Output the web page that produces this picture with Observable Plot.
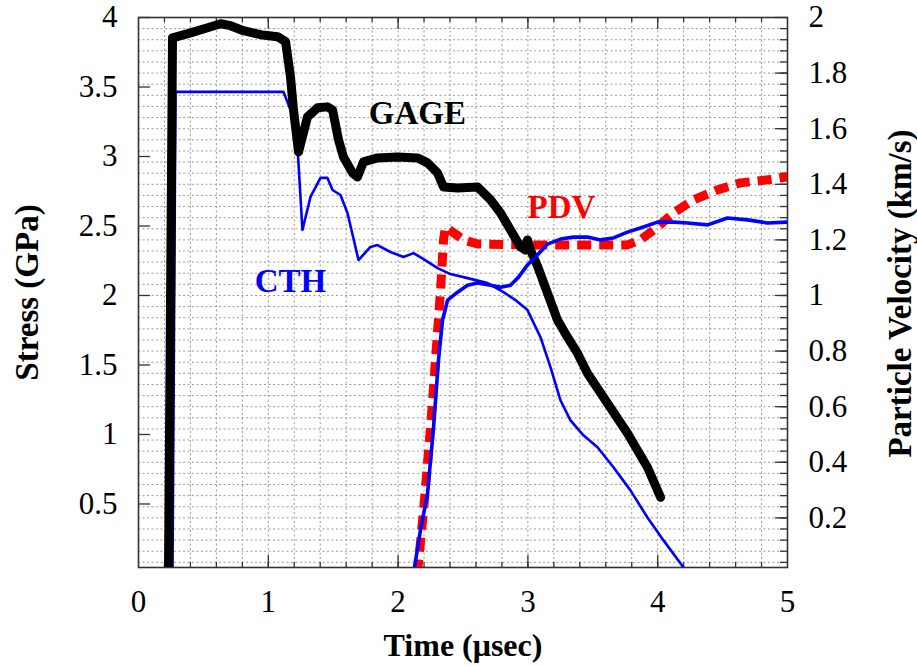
<!DOCTYPE html>
<html>
<head>
<meta charset="utf-8">
<script src="https://cdn.jsdelivr.net/npm/d3@7"></script>
<script src="https://cdn.jsdelivr.net/npm/@observablehq/plot@0.6"></script>
<style>
  html, body { margin: 0; padding: 0; background: #fff; }
  svg text { font-family: "Liberation Serif", "Times New Roman", Times, serif !important; }
</style>
</head>
<body>
<div id="chart"></div>
<script>
// ---- Data (time in µs, stress in GPa, particle velocity in km/s) ----
const gageT = [0.231, 0.262, 0.401, 0.532, 0.632, 0.709, 0.809, 0.940, 1.071, 1.133, 1.171, 1.194, 1.233, 1.302, 1.379, 1.456, 1.495, 1.541, 1.579, 1.649, 1.687, 1.733, 1.841, 1.995, 2.149, 2.227, 2.304, 2.350, 2.458, 2.612, 2.712, 2.789, 2.866, 2.943, 2.982, 2.997, 3.020, 3.074, 3.151, 3.228, 3.305, 3.382, 3.459, 3.613, 3.767, 3.921, 4.022];
const gageS = [0.0, 3.854, 3.890, 3.926, 3.955, 3.941, 3.905, 3.876, 3.862, 3.826, 3.573, 3.336, 3.033, 3.285, 3.350, 3.357, 3.336, 3.120, 2.997, 2.882, 2.853, 2.961, 2.990, 2.997, 2.990, 2.954, 2.882, 2.781, 2.774, 2.781, 2.689, 2.594, 2.471, 2.349, 2.327, 2.400, 2.327, 2.212, 2.017, 1.823, 1.700, 1.585, 1.441, 1.225, 1.009, 0.764, 0.548];

const cthT = [0.262, 0.285, 1.117, 1.171, 1.210, 1.225, 1.263, 1.325, 1.402, 1.456, 1.495, 1.556, 1.610, 1.695, 1.787, 1.841, 1.941, 2.042, 2.119, 2.196, 2.304, 2.404, 2.535, 2.689, 2.812, 2.904, 2.997, 3.097, 3.174, 3.251, 3.328, 3.428, 3.536, 3.659, 3.790, 3.921, 4.045, 4.199, 4.230];
const cthS = [0.0, 3.465, 3.465, 3.336, 3.321, 3.069, 2.471, 2.709, 2.846, 2.846, 2.759, 2.723, 2.594, 2.255, 2.349, 2.363, 2.313, 2.277, 2.305, 2.262, 2.197, 2.154, 2.125, 2.089, 2.024, 1.967, 1.895, 1.700, 1.484, 1.246, 1.102, 0.994, 0.908, 0.764, 0.598, 0.403, 0.238, 0.043, 0.0];

const pdvT = [2.149, 2.196, 2.250, 2.288, 2.327, 2.350, 2.365, 2.504, 2.612, 3.020, 3.559, 3.767, 3.867, 3.998, 4.122, 4.276, 4.461, 4.638, 4.846, 5.0];
const pdvV = [0.0, 0.227, 0.526, 0.767, 1.019, 1.200, 1.246, 1.200, 1.185, 1.182, 1.182, 1.182, 1.200, 1.246, 1.297, 1.344, 1.380, 1.405, 1.416, 1.427];

const cthVT = [2.119, 2.172, 2.227, 2.273, 2.311, 2.342, 2.381, 2.458, 2.535, 2.612, 2.712, 2.789, 2.866, 2.928, 2.997, 3.074, 3.151, 3.251, 3.351, 3.459, 3.559, 3.659, 3.767, 3.867, 3.998, 4.122, 4.230, 4.384, 4.538, 4.692, 4.846, 5.0];
const cthVV = [0.0, 0.155, 0.288, 0.526, 0.767, 0.911, 0.983, 1.012, 1.037, 1.045, 1.037, 1.030, 1.037, 1.066, 1.110, 1.146, 1.185, 1.203, 1.210, 1.210, 1.200, 1.207, 1.228, 1.243, 1.264, 1.264, 1.261, 1.254, 1.279, 1.272, 1.261, 1.264];

const xTicks = [0, 1, 2, 3, 4, 5];
const stressTicks = [0.5, 1, 1.5, 2, 2.5, 3, 3.5, 4];
const velTicks = [0.2, 0.4, 0.6, 0.8, 1, 1.2, 1.4, 1.6, 1.8, 2];

// stress units per velocity unit (right axis 0–2 km/s maps onto left 0–4 GPa)
const VEL_TO_STRESS = 2;

const labels = [
  {t: 2.149, s: 3.307, text: "GAGE", color: "#000000"},
  {t: 3.259, s: 2.630, text: "PDV", color: "#ff0000"},
  {t: 1.171, s: 2.104, text: "CTH", color: "#0000ff"}
];

// ---- Build tables ----
const gage = gageT.map((t, i) => ({t, s: gageS[i]}));
const cth = cthT.map((t, i) => ({t, s: cthS[i]}));
const pdv = pdvT.map((t, i) => ({t, s: pdvV[i] * VEL_TO_STRESS}));
const cthV = cthVT.map((t, i) => ({t, s: cthVV[i] * VEL_TO_STRESS}));

const W = 917, H = 666;
const mL = 138, mR = 130, mT = 17, mB = 99;
const fw = W - mL - mR, fh = H - mT - mB;

const minorX = d3.range(1, 25).map(i => i / 5);
const gridYvals = d3.range(1, 50).map(i => i * 0.04 * VEL_TO_STRESS);
const majorXin = [1, 2, 3, 4];
const velTickPos = velTicks.map(v => v * VEL_TO_STRESS);

const font = "Liberation Serif";
const gridStyle = {stroke: "#9a9a9a", strokeOpacity: 1, strokeWidth: 1, strokeDasharray: "2,2.5"};
const tickStyle = {stroke: "#333", strokeWidth: 1.3};

const chart = Plot.plot({
  width: W,
  height: H,
  marginLeft: mL,
  marginRight: mR,
  marginTop: mT,
  marginBottom: mB,
  style: {fontFamily: font, fontSize: "31px", color: "#000", background: "#fff"},
  x: {domain: [0, 5]},
  y: {domain: [0.043, 4]},
  marks: [
    Plot.gridX(minorX, gridStyle),
    Plot.gridY(gridYvals, gridStyle),
    // inward ticks
    Plot.tickY(stressTicks, {y: d => d, insetRight: fw - 12, ...tickStyle}),
    Plot.tickY(gridYvals, {y: d => d, insetLeft: fw - 7, ...tickStyle}),
    Plot.tickY(velTickPos, {y: d => d, insetLeft: fw - 12, ...tickStyle}),
    Plot.tickX(minorX, {x: d => d, insetTop: fh - 5, ...tickStyle}),
    Plot.tickX(minorX, {x: d => d, insetBottom: fh - 5, ...tickStyle}),
    Plot.tickX(majorXin, {x: d => d, insetTop: fh - 12, ...tickStyle}),
    Plot.tickX(majorXin, {x: d => d, insetBottom: fh - 12, ...tickStyle}),
    Plot.frame({stroke: "#333", strokeWidth: 1.6}),
    // axes labels
    Plot.axisX({ticks: xTicks, tickSize: 0, tickPadding: 22, label: null, fontFamily: font, tickFormat: d => String(d)}),
    Plot.axisY({anchor: "left", ticks: stressTicks, tickSize: 0, tickPadding: 21, label: null, fontFamily: font, tickFormat: d => String(d)}),
    Plot.axisY({anchor: "right", ticks: velTickPos, tickSize: 0, tickPadding: 21, label: null, fontFamily: font,
      tickFormat: d => String(+(d / VEL_TO_STRESS).toFixed(2))}),
    // data
    Plot.line(cth, {x: "t", y: "s", stroke: "#0000ff", strokeWidth: 2.6, clip: true, strokeLinejoin: "round"}),
    Plot.line(pdv, {x: "t", y: "s", stroke: "#ff0000", strokeWidth: 9, strokeDasharray: "14 8", strokeLinecap: "butt", clip: true}),
    Plot.line(gage, {x: "t", y: "s", stroke: "#000000", strokeWidth: 9, clip: true, strokeLinejoin: "round"}),
    Plot.line(cthV, {x: "t", y: "s", stroke: "#0000ff", strokeWidth: 3.6, clip: true, strokeLinejoin: "round"}),
    // annotations
    Plot.text(labels, {x: "t", y: "s", text: "text", fill: "color", fontFamily: font, fontWeight: "bold", fontSize: 33, textAnchor: "middle", lineAnchor: "middle"}),
    // axis titles
    Plot.text(["Time (\u03bcsec)"], {text: d => d, frameAnchor: "bottom", dy: 78, fontFamily: font, fontWeight: "bold", fontSize: 32, textAnchor: "middle", lineAnchor: "middle"}),
    Plot.text(["Stress (GPa)"], {text: d => d, frameAnchor: "left", dx: -111, rotate: -90, fontFamily: font, fontWeight: "bold", fontSize: 33, textAnchor: "middle", lineAnchor: "middle"}),
    Plot.text(["Particle Velocity (km/s)"], {text: d => d, frameAnchor: "right", dx: 113, dy: 1, rotate: -90, fontFamily: font, fontWeight: "bold", fontSize: 33, textAnchor: "middle", lineAnchor: "middle"})
  ]
});

document.getElementById("chart").appendChild(chart);
</script>
</body>
</html>
